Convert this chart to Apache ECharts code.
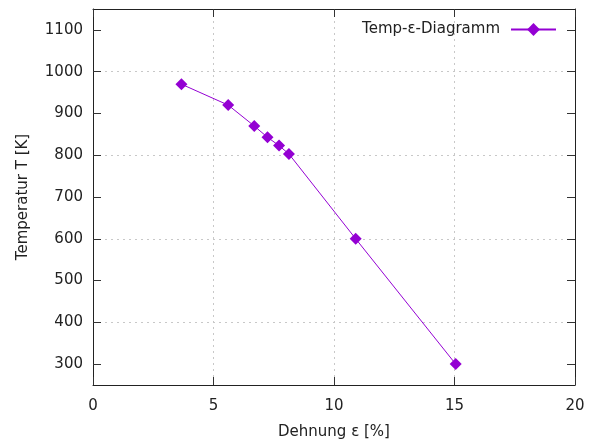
<!DOCTYPE html>
<html><head><meta charset="utf-8">
<script src="https://cdn.jsdelivr.net/npm/echarts@6/dist/echarts.min.js"></script>
<style>html,body{margin:0;padding:0;background:#fff}#c{width:595px;height:439px}</style>
</head><body><div id="c"></div>
<script>
const strain = [3.67, 5.61, 6.69, 7.24, 7.72, 8.13, 10.9, 15.05];
const temperature = [970, 920, 870, 843, 823, 803, 600, 300];
const yTicks = [300, 400, 500, 600, 700, 800, 900, 1000, 1100];
const seriesName = 'Temp-ε-Diagramm';

const font = 'DejaVu Sans';
const txt = '#222';
const fs = 15;
const gridLine = {show: true, lineStyle: {color: '#c8c8c8', type: [2, 4], width: 1}};
const axLine = {show: true, onZero: false, lineStyle: {color: '#222', width: 1}};
const tick = {show: true, inside: true, length: 8, lineStyle: {color: '#333'}};

const chart = echarts.init(document.getElementById('c'));
chart.setOption({
  animation: false,
  textStyle: {fontFamily: font},
  grid: {left: 93, right: 20, top: 9, bottom: 54, containLabel: false, outerBoundsMode: 'none'},
  legend: {
    data: [{name: seriesName}],
    right: 33, top: 17, align: 'right',
    itemWidth: 45, itemHeight: 16,
    textStyle: {fontFamily: font, fontSize: fs, color: txt, padding: [0, 6, 0, 0]}
  },
  xAxis: [{
    type: 'value', min: 0, max: 20, interval: 5,
    name: 'Dehnung ε [%]', nameLocation: 'middle', nameGap: 40,
    nameTextStyle: {fontFamily: font, fontSize: fs, color: txt},
    axisLine: axLine,
    axisTick: tick,
    axisLabel: {fontFamily: font, fontSize: fs, color: txt, margin: 14},
    splitLine: gridLine
  }, {
    type: 'value', position: 'top', min: 0, max: 20, interval: 5,
    axisLine: axLine,
    axisTick: tick,
    axisLabel: {show: false}, splitLine: {show: false}
  }],
  yAxis: [{
    type: 'value', position: 'left', min: 250, max: 1150, interval: 50,
    name: 'Temperatur T [K]', nameLocation: 'middle', nameGap: 62,
    nameTextStyle: {fontFamily: font, fontSize: fs, color: txt},
    axisLine: axLine,
    axisTick: Object.assign({customValues: yTicks}, tick),
    axisLabel: {fontFamily: font, fontSize: fs, color: txt, margin: 10, customValues: yTicks,
      formatter: v => String(v)},
    splitLine: {show: true, lineStyle: {color: ['rgba(0,0,0,0)', '#c8c8c8'], type: [2, 4], width: 1}}
  }, {
    type: 'value', position: 'right', min: 250, max: 1150, interval: 50,
    axisLine: axLine,
    axisTick: Object.assign({customValues: yTicks}, tick),
    axisLabel: {show: false}, splitLine: {show: false}
  }],
  series: [{
    name: seriesName, type: 'line',
    xAxisIndex: 0, yAxisIndex: 0,
    data: strain.map((x, i) => [x, temperature[i]]),
    symbol: 'diamond', symbolSize: 12,
    itemStyle: {color: '#9400d3'},
    lineStyle: {color: '#9400d3', width: 1}
  }]
});
</script></body></html>
